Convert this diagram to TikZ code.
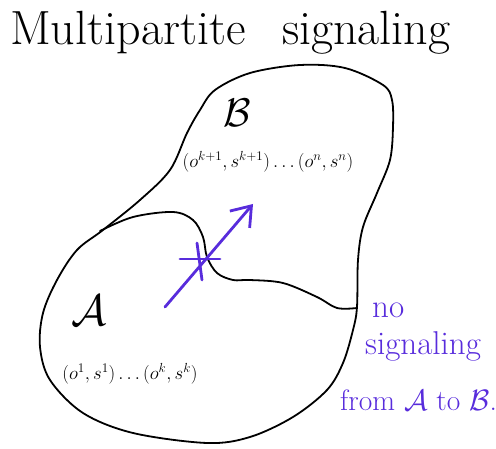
\documentclass[tikz,border=0pt]{standalone}
\usepackage{fix-cm}
\usetikzlibrary{arrows.meta}
\definecolor{pen}{RGB}{88,44,220}
\tikzset{
  outline/.style={line width=1.8pt, black, line join=round, line cap=round},
  penline/.style={line width=2.8pt, pen, line cap=round, line join=round},
  penlabel/.style={pen, inner sep=0pt, anchor=base west, font=\fontsize{33}{36}\selectfont},
  mathlabel/.style={inner sep=0pt, font=\fontsize{18.8}{24}\selectfont},
  titlelabel/.style={inner sep=0pt, anchor=base west, font=\fontsize{48}{54}\selectfont}
}
\begin{document}
\begin{tikzpicture}[x=1pt,y=-1pt]
\useasboundingbox (0,0) rectangle (496,449);
% title
\node[titlelabel] (title) at (10,45) {Multipartite\hspace{22pt} signaling};
% outer blob
\draw[outline] plot[smooth cycle, tension=0.55] coordinates {
 (215,90) (250,73) (300,65) (345,68) (383,85) (392,100) (393,127) (390,160)
 (377,193) (363,227) (358,260) (357,307) (353,330) (343,363) (327,390)
 (293,417) (250,437) (207,443) (133,433) (83,413) (50,380) (40,347)
 (43,313) (57,280) (77,250) (103,230) (140,200) (170,170) (187,133) (200,110)};
% dividing curve
\draw[outline] plot[smooth, tension=0.55] coordinates {
 (100,231) (133,217) (173,212) (193,220) (203,237) (207,257) (217,273)
 (233,280) (250,280) (283,283) (317,297) (337,308) (357,308)};
% labels
\node[inner sep=0pt, font=\fontsize{40}{44}\selectfont] (B) at (237,113) {$\mathcal{B}$};
\node[mathlabel] (Bset) at (268,162) {$(o^{k+1},s^{k+1})\ldots(o^{n},s^{n})$};
\node[inner sep=0pt, font=\fontsize{44}{48}\selectfont] (A) at (89,310) {$\mathcal{A}$};
\node[mathlabel] (Aset) at (130,374) {$(o^{1},s^{1})\ldots(o^{k},s^{k})$};
% signaling arrow with cross
\coordinate (arrS) at (165,307);
\coordinate (arrE) at (253,204);
\draw[penline, -{Straight Barb[length=18pt,width=26pt,line width=2.8pt]}] (arrS) -- (arrE);
\coordinate (h1) at (180,259);
\coordinate (h2) at (220,259);
\coordinate (v1) at (197,243);
\coordinate (v2) at (202,280);
\draw[penline] (h1) -- (h2);
\draw[penline] (v1) -- (v2);
% purple note
\node[penlabel] (no) at (372,318) {no};
\node[penlabel] (sig) at (365,355) {signaling};
\node[penlabel, font=\fontsize{29.5}{32}\selectfont] (from) at (340,410) {from $\mathcal{A}$ to $\mathcal{B}$.};
\end{tikzpicture}
\end{document}
